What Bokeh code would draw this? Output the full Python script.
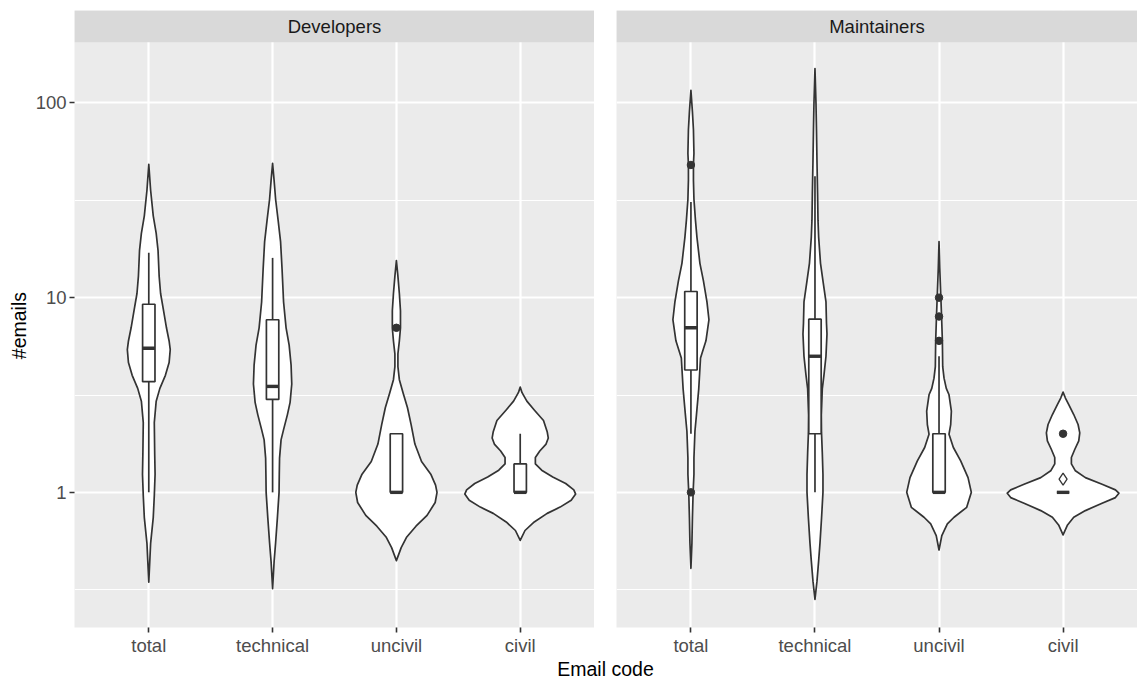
import math
from bokeh.plotting import figure
from bokeh.layouts import row, column
from bokeh.models import FactorRange, Range1d, FixedTicker, BoxAnnotation, Label
from bokeh.transform import dodge
from bokeh.embed import file_html
from bokeh.resources import INLINE

# ---------------- data ----------------
categories = ["total", "technical", "uncivil", "civil"]
groups = ["Developers", "Maintainers"]
y_tick_values = [1, 10, 100]
y_tick_labels = ["1", "10", "100"]
y_minor_values = [0.316, 3.16, 31.6]

# violin outlines: #emails level and scaled density (1 = widest violin)
dev_total_y = [48.4, 35.6, 26.3, 21.4, 17.5, 12.9, 10.5, 8.57, 6.98, 5.99, 5.41, 4.64, 3.99, 3.42, 2.94, 2.28, 1.59, 1.24, 0.96, 0.742, 0.547, 0.346]
dev_total_d = [0, .033, .080, .133, .166, .186, .212, .265, .318, .365, .385, .365, .298, .199, .133, .099, .106, .113, .099, .080, .033, 0]
dev_tech_y = [49, 40, 32, 25, 19.4, 14, 9.5, 7, 5.7, 4.5, 3.6, 2.9, 2.5, 2.1, 1.86, 1.5, 1.24, 1.0, 0.74, 0.55, 0.44, 0.32]
dev_tech_d = [0, .027, .054, .099, .143, .170, .197, .242, .297, .332, .344, .314, .265, .197, .152, .125, .120, .116, .086, .054, .027, 0]
dev_unciv_y = [15.5, 12.9, 10.5, 8.57, 6.98, 5.99, 5.14, 4.42, 3.79, 3.25, 2.72, 2.22, 1.77, 1.44, 1.24, 1.09, 1.0, 0.887, 0.762, 0.670, 0.590, 0.520, 0.446]
dev_unciv_d = [0, .027, .053, .073, .073, .053, .027, .027, .053, .119, .199, .265, .332, .451, .617, .703, .729, .696, .550, .351, .186, .086, 0]
dev_civ_y = [3.47, 3.25, 2.94, 2.65, 2.34, 2.05, 1.90, 1.77, 1.63, 1.51, 1.40, 1.30, 1.20, 1.11, 1.03, 0.98, 0.91, 0.84, 0.78, 0.705, 0.637, 0.567]
dev_civ_d = [0, .033, .119, .252, .418, .484, .504, .464, .351, .272, .272, .385, .584, .816, .962, .995, .915, .716, .484, .252, .086, 0]

mnt_total_y = [116, 90, 72.8, 55, 48.4, 40, 32, 25, 20.4, 15, 12.2, 9.5, 7.7, 6, 4.9, 3.4, 2.5, 2.06, 1.5, 1.24, 1.0, 0.74, 0.55, 0.407]
mnt_total_d = [0, .027, .045, .054, .045, .045, .054, .081, .108, .161, .224, .287, .323, .269, .172, .140, .099, .072, .054, .054, .039, .027, .018, 0]
mnt_tech_y = [150, 100, 72.8, 50, 34, 25, 20.4, 15, 12.2, 9.5, 7.4, 6.5, 5.0, 4.0, 3.4, 3.05, 2.5, 2.06, 1.6, 1.24, 1.0, 0.74, 0.55, 0.446, 0.35, 0.282]
mnt_tech_d = [0, .018, .027, .036, .047, .054, .066, .099, .143, .197, .206, .215, .197, .161, .131, .125, .113, .116, .131, .143, .143, .118, .090, .066, .036, 0]
mnt_unciv_y = [19.4, 14.2, 9.98, 7.93, 6.0, 4.42, 3.86, 3.42, 3.17, 2.61, 2.23, 1.99, 1.70, 1.45, 1.19, 1.0, 0.838, 0.745, 0.689, 0.6, 0.506]
mnt_unciv_d = [0, .013, .033, .046, .060, .066, .09, .13, .179, .221, .209, .179, .257, .388, .520, .579, .496, .269, .149, .05, 0]
mnt_civ_y = [3.27, 3.05, 2.82, 2.51, 2.23, 2.02, 1.84, 1.66, 1.51, 1.40, 1.29, 1.19, 1.10, 1.03, 0.99, 0.94, 0.88, 0.806, 0.745, 0.68, 0.605]
mnt_civ_d = [0, .042, .102, .191, .269, .299, .281, .209, .149, .149, .221, .400, .699, .938, 1.0, .938, .699, .400, .191, .08, 0]

# boxplot statistics per category (total, technical, uncivil, civil)
dev_lo = [1, 1, 1, 1]
dev_q1 = [3.7, 3.0, 1, 1]
dev_med = [5.5, 3.5, 1, 1]
dev_q3 = [9.25, 7.7, 2, 1.4]
dev_hi = [17, 16, 2, 2]
dev_out_cat = ["uncivil"]
dev_out_val = [7]

mnt_lo = [2, 1, 1, 1]
mnt_q1 = [4.25, 2, 1, 1]
mnt_med = [7, 5, 1, 1]
mnt_q3 = [10.75, 7.75, 2, 1]
mnt_hi = [31, 42, 5, 1]
mnt_out_cat = ["total", "total", "uncivil", "uncivil", "uncivil", "civil"]
mnt_out_val = [48, 1, 6, 8, 10, 2]
mnt_mean_cat = ["civil"]
mnt_mean_val = [1.17]

violins = {
    "Developers": [(dev_total_y, dev_total_d), (dev_tech_y, dev_tech_d), (dev_unciv_y, dev_unciv_d), (dev_civ_y, dev_civ_d)],
    "Maintainers": [(mnt_total_y, mnt_total_d), (mnt_tech_y, mnt_tech_d), (mnt_unciv_y, mnt_unciv_d), (mnt_civ_y, mnt_civ_d)],
}
boxes = {
    "Developers": (dev_lo, dev_q1, dev_med, dev_q3, dev_hi, dev_out_cat, dev_out_val, [], []),
    "Maintainers": (mnt_lo, mnt_q1, mnt_med, mnt_q3, mnt_hi, mnt_out_cat, mnt_out_val, mnt_mean_cat, mnt_mean_val),
}

# ---------------- layout / style ----------------
YTITLE_W = 32          # narrow column holding the "#emails" title
FRAME_W = 521
LEFT_BORDER = 73 - YTITLE_W
GAP = 22
TOP_BORDER = 10
STRIP_PX = 32
PANEL_PX = 588
BOTTOM_BORDER = 28
FIG_H = TOP_BORDER + STRIP_PX + PANEL_PX + BOTTOM_BORDER
TITLE_H = 680 - FIG_H
Y_LO_LOG, Y_HI_LOG = -0.694, 2.311
dec_px = PANEL_PX / (Y_HI_LOG - Y_LO_LOG)
STRIP_TOP_LOG = Y_HI_LOG + STRIP_PX / dec_px
X_PAD = 0.1

PANEL_BG = "#EBEBEB"
STRIP_BG = "#D9D9D9"
INK = "#333333"
FONT = "Liberation Sans"
TICK_FS = "18.5px"
TITLE_FS = "19.5px"
VIOLIN_HALF = 0.45
BOX_W = 0.1

y_range = Range1d(10 ** Y_LO_LOG, 10 ** STRIP_TOP_LOG)


def blank(width, height):
    f = figure(width=width, height=height, x_range=Range1d(0, width), y_range=Range1d(0, height),
               x_axis_location=None, y_axis_location=None, output_backend="svg",
               toolbar_location=None, min_border=0)
    f.outline_line_color = None
    f.grid.visible = False
    return f


def make_panel(group, first):
    lb = LEFT_BORDER if first else GAP
    p = figure(width=lb + FRAME_W, height=FIG_H,
               x_range=FactorRange(factors=categories, range_padding=X_PAD, range_padding_units="absolute"),
               y_range=y_range, y_axis_type="log", output_backend="svg", toolbar_location=None,
               min_border_left=lb, min_border_right=0, min_border_top=TOP_BORDER,
               min_border_bottom=BOTTOM_BORDER)
    p.background_fill_color = PANEL_BG
    p.border_fill_color = "white"
    p.outline_line_color = None

    ticker = FixedTicker(ticks=y_tick_values, minor_ticks=y_minor_values)
    p.yaxis.ticker = ticker
    p.ygrid.ticker = ticker
    p.ygrid.grid_line_color = "white"
    p.ygrid.grid_line_width = 2.2
    p.ygrid.minor_grid_line_color = "white"
    p.ygrid.minor_grid_line_width = 1.1
    p.xgrid.grid_line_color = "white"
    p.xgrid.grid_line_width = 2.2

    for ax in (p.xaxis, p.yaxis):
        ax.axis_line_color = None
        ax.major_tick_line_color = INK
        ax.major_tick_line_width = 1.6
        ax.major_tick_out = 5
        ax.major_tick_in = 0
        ax.minor_tick_line_color = None
        ax.major_label_text_font = FONT
        ax.major_label_text_font_size = TICK_FS
        ax.major_label_text_color = "#4D4D4D"
    p.xaxis.major_label_standoff = 2
    p.yaxis.major_label_standoff = 3
    if first:
        p.yaxis.major_label_overrides = {v: s for v, s in zip(y_tick_values, y_tick_labels)}
    else:
        p.yaxis.visible = False

    # violins
    for cat, (ys, ds) in zip(categories, violins[group]):
        pts = sorted(zip(ys, ds))
        left_x = [(cat, -VIOLIN_HALF * d) for _, d in pts]
        right_x = [(cat, VIOLIN_HALF * d) for _, d in reversed(pts)]
        vy = [y for y, _ in pts] + [y for y, _ in reversed(pts)]
        p.patch(x=left_x + right_x, y=vy, fill_color="white", line_color=INK, line_width=1.7,
                line_join="round")

    lo, q1, med, q3, hi, oc, ov, mc, mv = boxes[group]
    src = dict(cat=categories, lo=lo, q1=q1, med=med, q3=q3, hi=hi)
    p.segment(x0="cat", x1="cat", y0="q3", y1="hi", source=src, line_color=INK, line_width=1.7)
    p.segment(x0="cat", x1="cat", y0="lo", y1="q1", source=src, line_color=INK, line_width=1.7)
    p.vbar(x="cat", bottom="q1", top="q3", width=BOX_W, source=src, fill_color="white",
           line_color=INK, line_width=1.7)
    p.segment(x0=dodge("cat", -BOX_W / 2, range=p.x_range), x1=dodge("cat", BOX_W / 2, range=p.x_range),
              y0="med", y1="med", source=src, line_color=INK, line_width=3.4)
    if oc:
        p.scatter(x=oc, y=ov, size=7.5, color=INK)
    if mc:
        p.scatter(x=mc, y=mv, marker="diamond", size=12, fill_color=None, line_color=INK, line_width=1.3)

    # facet strip
    p.add_layout(BoxAnnotation(bottom=10 ** Y_HI_LOG, fill_color=STRIP_BG, fill_alpha=1.0, line_color=None))
    p.add_layout(Label(x=len(categories) / 2, y=10 ** ((Y_HI_LOG + STRIP_TOP_LOG) / 2), text=group,
                       text_align="center", text_baseline="middle", text_font=FONT,
                       text_font_size=TICK_FS, text_color="#1A1A1A"))
    return p


# y title column, centred on the panel area (below the strip)
p0 = blank(YTITLE_W, FIG_H)
panel_mid_from_bottom = BOTTOM_BORDER + PANEL_PX / 2
p0.add_layout(Label(x=YTITLE_W / 2 + 2, y=panel_mid_from_bottom, angle=math.pi / 2, text="#emails",
                    text_align="center", text_baseline="middle", text_font=FONT,
                    text_font_size=TITLE_FS, text_color="black"))

p1 = make_panel(groups[0], True)
p2 = make_panel(groups[1], False)

total_w = YTITLE_W + LEFT_BORDER + FRAME_W + GAP + FRAME_W
p3 = blank(total_w, TITLE_H)
p3.add_layout(Label(x=(YTITLE_W + LEFT_BORDER + total_w) / 2, y=TITLE_H / 2 + 1, text="Email code",
                    text_align="center", text_baseline="middle", text_font=FONT,
                    text_font_size=TITLE_FS, text_color="black"))

layout = column(row(p0, p1, p2), p3)
open("out.html", "w").write(file_html(layout, INLINE))
